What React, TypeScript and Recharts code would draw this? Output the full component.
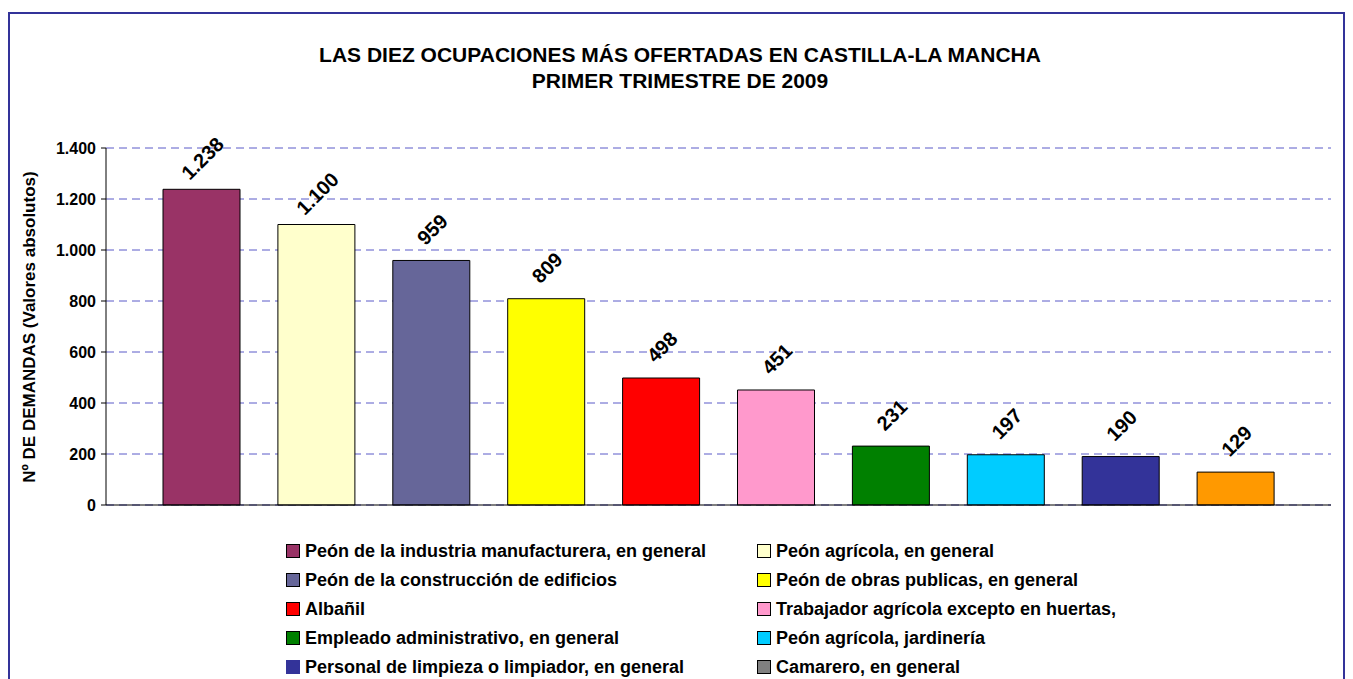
import React from "react";
import { Bar, BarChart, CartesianGrid, Cell, LabelList, XAxis, YAxis } from "recharts";

const occupations = [
  "Peón de la industria manufacturera, en general",
  "Peón agrícola, en general",
  "Peón de la construcción de edificios",
  "Peón de obras publicas, en general",
  "Albañil",
  "Trabajador agrícola excepto en huertas,",
  "Empleado administrativo, en general",
  "Peón agrícola, jardinería",
  "Personal de limpieza o limpiador, en general",
  "Camarero, en general",
];
const demands = [1238, 1100, 959, 809, 498, 451, 231, 197, 190, 129];
const yTicks = [0, 200, 400, 600, 800, 1000, 1200, 1400];

const barColors = [
  "#993366", "#FFFFCC", "#666699", "#FFFF00", "#FF0000",
  "#FF99CC", "#008000", "#00CCFF", "#333399", "#FF9900",
];
// the legend in the original shows grey for the last entry
const legendColors = [...barColors.slice(0, 9), "#808080"];

const data = occupations.map((name, i) => ({ name, value: demands[i] }));

const FONT = '"Liberation Sans", Arial, sans-serif';
const fmt = (v: number) => v.toString().replace(/\B(?=(\d{3})+(?!\d))/g, ".");

function RotatedLabel(props: any) {
  const { x, y, width, value } = props;
  const cx = x + width / 2 + 1;
  const cy = y - 31;
  return (
    <text
      x={cx}
      y={cy}
      transform={`rotate(-45 ${cx} ${cy})`}
      textAnchor="middle"
      dominantBaseline="central"
      fontFamily={FONT}
      fontWeight="bold"
      fontSize={20}
      fill="#000"
    >
      {fmt(value)}
    </text>
  );
}

export default function App() {
  return (
    <div
      style={{
        position: "relative",
        marginTop: 4,
        width: 1337,
        height: 690,
        boxSizing: "border-box",
        border: "2px solid #333399",
        fontFamily: FONT,
        background: "#fff",
      }}
    >
      <div
        style={{
          position: "absolute",
          left: 0,
          top: 28,
          width: 1340,
          textAlign: "center",
          fontWeight: "bold",
          fontSize: 21,
          lineHeight: "26px",
        }}
      >
        <div>LAS DIEZ OCUPACIONES MÁS OFERTADAS EN CASTILLA-LA MANCHA</div>
        <div>PRIMER TRIMESTRE DE 2009</div>
      </div>

      <div
        style={{
          position: "absolute",
          left: 20,
          top: 313,
          transform: "translate(-50%, -50%) rotate(-90deg)",
          whiteSpace: "nowrap",
          fontWeight: "bold",
          fontSize: 17,
        }}
      >
        Nº DE DEMANDAS (Valores absolutos)
      </div>

      <BarChart
        width={1335}
        height={510}
        data={data}
        margin={{ top: 134, right: 14, bottom: 14, left: 0 }}
        style={{ position: "absolute", left: 0, top: 0 }}
      >
        <CartesianGrid vertical={false} stroke="#5a5ac8" strokeDasharray="8 5" />
        <XAxis
          dataKey="name"
          height={5}
          tick={false}
          tickLine={false}
          axisLine={{ stroke: "#000" }}
          padding={{ left: 38, right: 38 }}
        />
        <YAxis
          width={96}
          domain={[0, 1400]}
          ticks={yTicks}
          interval={0}
          tickFormatter={fmt}
          tickSize={5}
          tickMargin={5}
          axisLine={{ stroke: "#000" }}
          tickLine={{ stroke: "#000" }}
          tick={{ fill: "#000", fontFamily: FONT, fontWeight: "bold", fontSize: 16 }}
        />
        <Bar dataKey="value" barSize={77} stroke="#000" strokeWidth={1} isAnimationActive={false}>
          {data.map((d, i) => (
            <Cell key={d.name} fill={barColors[i]} />
          ))}
          <LabelList dataKey="value" content={RotatedLabel} />
        </Bar>
      </BarChart>

      {occupations.map((name, i) => {
        const col = i % 2;
        const row = Math.floor(i / 2);
        return (
          <div
            key={name}
            style={{
              position: "absolute",
              left: col === 0 ? 276 : 747,
              top: 537 + row * 29 - 11,
              height: 22,
              display: "flex",
              alignItems: "center",
              whiteSpace: "nowrap",
              fontWeight: "bold",
              fontSize: 18,
            }}
          >
            <span
              style={{
                display: "inline-block",
                width: 12,
                height: 12,
                background: legendColors[i],
                border: i === 8 ? "1px solid " + legendColors[i] : "1px solid #000",
                marginRight: 5,
              }}
            />
            {name}
          </div>
        );
      })}
    </div>
  );
}
